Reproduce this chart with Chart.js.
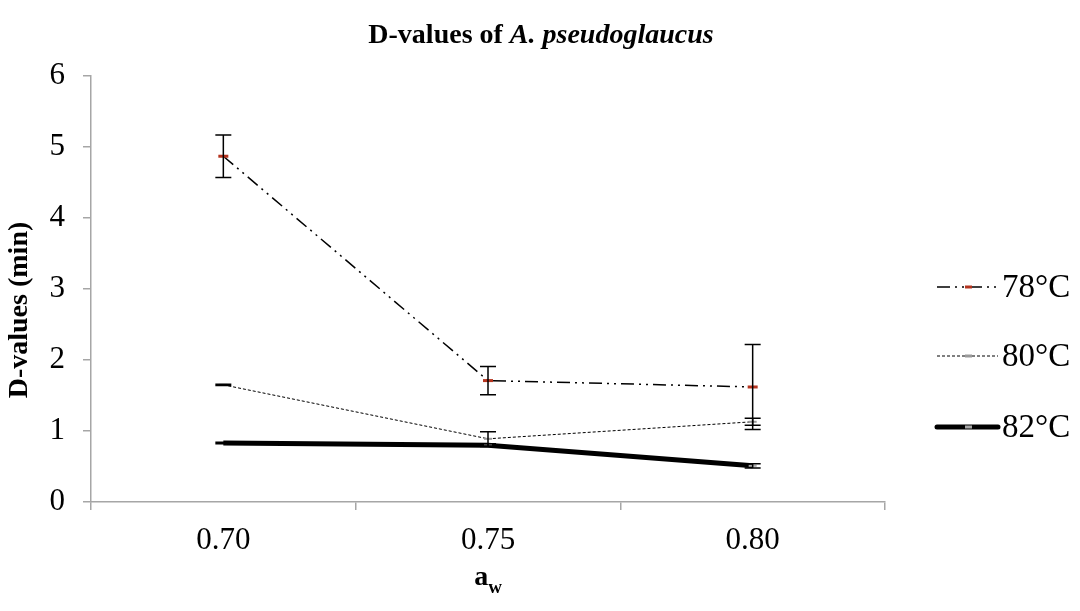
<!DOCTYPE html>
<html>
<head>
<meta charset="utf-8">
<script src="https://cdn.jsdelivr.net/npm/chart.js@4.4.0/dist/chart.umd.min.js"></script>
<style>
  html, body { margin: 0; padding: 0; background: #fff; }
  #wrap { position: relative; width: 1080px; height: 611px; }
</style>
</head>
<body>
<div id="wrap"><canvas id="chart"></canvas></div>
<script>
// water activity categories
const awLabels = ['0.70', '0.75', '0.80'];
const yTicks = [0, 1, 2, 3, 4, 5, 6];

// D-values (min) per temperature
const d78 = [4.87, 1.71, 1.62];
const d80 = [1.65, 0.89, 1.13];
const d82 = [0.83, 0.80, 0.51];

// standard deviations (error bars)
const err78 = [0.30, 0.20, 0.60];
const err80 = [0.01, 0.10, 0.05];
const err82 = [0.01, 0.02, 0.03];

const seriesNames = ['78°C', '80°C', '82°C'];

const serif = "'Liberation Serif', 'Times New Roman', serif";

// error bars drawn from the scales
const errorBars = {
  id: 'errorBars',
  afterDatasetsDraw(chart) {
    const ctx = chart.ctx;
    const y = chart.scales.y;
    const errs = [err78, err80, err82];
    ctx.save();
    ctx.strokeStyle = '#000';
    ctx.lineWidth = 1.5;
    chart.data.datasets.forEach((ds, i) => {
      const meta = chart.getDatasetMeta(i);
      meta.data.forEach((pt, j) => {
        const v = ds.data[j], e = errs[i][j];
        const top = y.getPixelForValue(v + e);
        const bot = y.getPixelForValue(v - e);
        ctx.beginPath();
        ctx.moveTo(pt.x, top); ctx.lineTo(pt.x, bot);
        ctx.moveTo(pt.x - 8, top); ctx.lineTo(pt.x + 8, top);
        ctx.moveTo(pt.x - 8, bot); ctx.lineTo(pt.x + 8, bot);
        ctx.stroke();
      });
    });
    ctx.restore();
  }
};

// title with italic species name, axis titles, and line legend
const decorations = {
  id: 'decorations',
  afterDraw(chart) {
    const ctx = chart.ctx;
    const area = chart.chartArea;
    ctx.save();
    ctx.fillStyle = '#000';
    ctx.textBaseline = 'middle';

    // title
    const t1 = 'D-values of ', t2 = 'A. pseudoglaucus';
    ctx.font = 'bold 28px ' + serif;
    const w1 = ctx.measureText(t1).width;
    ctx.font = 'italic bold 28px ' + serif;
    const w2 = ctx.measureText(t2).width;
    let tx = 541 - (w1 + w2) / 2;
    ctx.textAlign = 'left';
    ctx.font = 'bold 28px ' + serif;
    ctx.fillText(t1, tx, 36);
    ctx.font = 'italic bold 28px ' + serif;
    ctx.fillText(t2, tx + w1, 36);

    // y axis title
    ctx.save();
    ctx.translate(20, 310);
    ctx.rotate(-Math.PI / 2);
    ctx.textAlign = 'center';
    ctx.font = 'bold 28px ' + serif;
    ctx.fillText('D-values (min)', 0, 0);
    ctx.restore();

    // x axis title a_w
    const cx = (area.left + area.right) / 2;
    ctx.textAlign = 'left';
    ctx.font = 'bold 28px ' + serif;
    const wa = ctx.measureText('a').width;
    ctx.font = 'bold 19px ' + serif;
    const ww = ctx.measureText('w').width;
    const ax = cx - (wa + ww) / 2;
    ctx.font = 'bold 28px ' + serif;
    ctx.fillText('a', ax, 578);
    ctx.font = 'bold 19px ' + serif;
    ctx.fillText('w', ax + wa, 588);

    // legend
    const legendY = [287, 356, 427];
    chart.data.datasets.forEach((ds, i) => {
      const ly = legendY[i];
      ctx.beginPath();
      ctx.strokeStyle = '#000';
      ctx.lineWidth = ds.borderWidth;
      ctx.setLineDash(ds.borderDash || []);
      ctx.lineCap = i === 2 ? 'round' : 'butt';
      ctx.moveTo(937, ly); ctx.lineTo(998, ly);
      ctx.stroke();
      ctx.setLineDash([]);
      ctx.beginPath();
      ctx.strokeStyle = ds.pointBorderColor;
      ctx.lineWidth = 3;
      ctx.lineCap = 'butt';
      ctx.moveTo(965, ly); ctx.lineTo(972, ly);
      ctx.stroke();
      ctx.font = '33px ' + serif;
      ctx.fillStyle = '#000';
      ctx.textAlign = 'left';
      ctx.fillText(ds.label, 1002, ly + 1);
    });
    ctx.restore();
  }
};

new Chart(document.getElementById('chart'), {
  type: 'line',
  data: {
    labels: awLabels,
    datasets: [
      {
        label: seriesNames[0],
        data: d78,
        borderColor: '#000',
        borderWidth: 1.5,
        borderDash: [13, 5, 2, 5, 2, 5],
        pointStyle: 'line',
        pointRadius: 5,
        pointBorderWidth: 3,
        pointBorderColor: '#b5341f',
        pointBackgroundColor: '#b5341f',
        tension: 0
      },
      {
        label: seriesNames[1],
        data: d80,
        borderColor: '#000',
        borderWidth: 1,
        borderDash: [3, 2],
        pointStyle: 'line',
        pointRadius: 4,
        pointBorderWidth: 2,
        pointBorderColor: '#9a9a9a',
        pointBackgroundColor: '#9a9a9a',
        tension: 0
      },
      {
        label: seriesNames[2],
        data: d82,
        borderColor: '#000',
        borderWidth: 5,
        borderDash: [],
        pointStyle: 'line',
        pointRadius: 4,
        pointBorderWidth: 2,
        pointBorderColor: '#a8a8a8',
        pointBackgroundColor: '#a8a8a8',
        tension: 0
      }
    ]
  },
  options: {
    responsive: true,
    maintainAspectRatio: false,
    animation: false,
    layout: { padding: { top: 76, right: 195, bottom: 0, left: 0 } },
    plugins: {
      legend: { display: false },
      title: { display: false },
      tooltip: { enabled: false }
    },
    scales: {
      x: {
        type: 'category',
        offset: true,
        afterFit(scale) { scale.height = 109; },
        grid: {
          offset: true,
          drawOnChartArea: false,
          drawTicks: true,
          tickLength: 8,
          color: '#a6a6a6',
          lineWidth: 1.5
        },
        border: { color: '#a6a6a6', width: 1.5 },
        ticks: {
          color: '#000',
          padding: 12,
          font: { family: serif, size: 31 }
        }
      },
      y: {
        min: 0,
        max: 6,
        afterFit(scale) { scale.width = 91; },
        afterBuildTicks(scale) { scale.ticks = yTicks.map(v => ({ value: v })); },
        grid: {
          drawOnChartArea: false,
          drawTicks: true,
          tickLength: 8,
          color: '#a6a6a6',
          lineWidth: 1.5
        },
        border: { color: '#a6a6a6', width: 1.5 },
        ticks: {
          color: '#000',
          padding: 18,
          font: { family: serif, size: 31 }
        },
        title: { display: false }
      }
    }
  },
  plugins: [errorBars, decorations]
});
</script>
</body>
</html>
